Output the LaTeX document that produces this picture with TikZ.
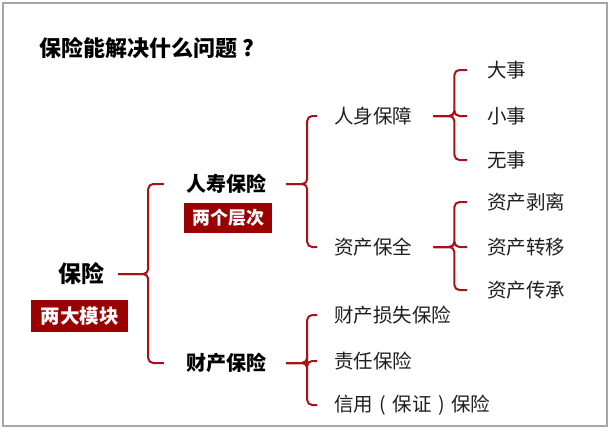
\documentclass[tikz,border=0pt]{standalone}
\usepackage{fontspec}
\newfontfamily\cjk{Noto Sans CJK SC}
\usetikzlibrary{calc}
\definecolor{brred}{RGB}{168,18,22}
\definecolor{boxred}{RGB}{155,0,0}
\definecolor{txtgray}{RGB}{30,30,30}
\newcommand{\fwc}[1]{\makebox[1em][c]{#1}}
\tikzset{
  br/.style={draw=brred, line width=2pt, rounded corners=5pt},
  lbl/.style={inner sep=0pt, anchor=west, text=txtgray, font=\cjk\fontsize{19.5}{22}\selectfont},
  bold/.style={inner sep=0pt, text=black, font=\cjk\bfseries\fontsize{20}{24}\selectfont},
  tag/.style={fill=boxred, text=white, inner sep=0pt, font=\cjk\bfseries\fontsize{18}{22}\selectfont},
}
\begin{document}
\begin{tikzpicture}[x=1pt,y=-1pt]
\useasboundingbox (0,0) rectangle (615,431);
\draw[draw=black!35, line width=1.3pt] (3,3) rectangle (607,426);

\node[inner sep=0pt, anchor=west, font=\cjk\bfseries\fontsize{22}{26}\selectfont] (title) at (39,48) {保险能解决什么问题\fwc{?}};

\node[bold, font=\cjk\bfseries\fontsize{23}{26}\selectfont] (bx) at (81,274) {保险};
\node[tag, minimum width=97pt, minimum height=32pt, font=\cjk\bfseries\fontsize{19.5}{22}\selectfont] (tag1) at (79.5,316) {两大模块};

\node[bold] (rs) at (226,184) {人寿保险};
\node[tag, minimum width=88pt, minimum height=30pt] (tag2) at (228,218) {两个层次};
\node[bold] (cc) at (226,363) {财产保险};

\node[lbl] (rsbz) at (334,116) {人身保障};
\node[lbl] (zcbq) at (334,247) {资产保全};

\node[lbl] (ds) at (487,70) {大事};
\node[lbl] (xs) at (487,116) {小事};
\node[lbl] (ws) at (487,160) {无事};

\node[lbl] (bl) at (487,202) {资产剥离};
\node[lbl] (zy) at (487,247) {资产转移};
\node[lbl] (cch) at (487,290) {资产传承};

\node[lbl] (ccss) at (334,315) {财产损失保险};
\node[lbl] (zr) at (334,361) {责任保险};
\node[lbl] (xy) at (334,405) {信用\fwc{(}保证\fwc{)}保险};

% level 1
\foreach \c in {rs,cc}
  \draw[br] (bx.east) ++(14,0) -- ++(30,0) |- ($(\c.west)+(-22,0)$);
% level 2
\foreach \c in {rsbz,zcbq}
  \draw[br] (rs.east) ++(20,0) -- ++(21,0) |- ($(\c.west)+(-17,0)$);
\foreach \c in {ccss,zr,xy}
  \draw[br] (cc.east) ++(20,0) -- ++(21,0) |- ($(\c.west)+(-17,0)$);
% level 3
\foreach \c in {ds,xs,ws}
  \draw[br] (rsbz.east) ++(21,0) -- ++(21,0) |- ($(\c.west)+(-20,0)$);
\foreach \c in {bl,zy,cch}
  \draw[br] (zcbq.east) ++(21,0) -- ++(21,0) |- ($(\c.west)+(-20,0)$);
\end{tikzpicture}
\end{document}
